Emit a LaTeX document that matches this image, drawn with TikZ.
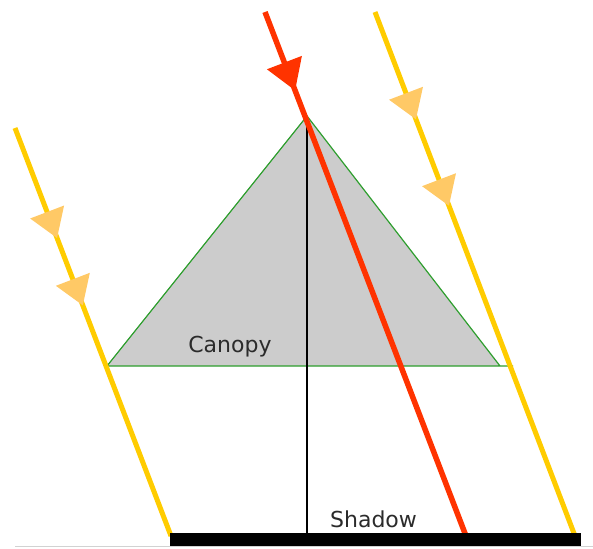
\documentclass[tikz,border=0pt]{standalone}
\usepackage{fontspec}
\setsansfont{DejaVu Sans}
\usetikzlibrary{arrows.meta,decorations.markings}
\definecolor{sunline}{HTML}{FFCC00}
\definecolor{sunhead}{HTML}{FFC966}
\definecolor{hotline}{HTML}{FF3300}
\definecolor{leafgray}{HTML}{CCCCCC}
\definecolor{leafedge}{HTML}{2E9E2E}
\definecolor{inkgray}{HTML}{2B2B2B}

\tikzset{
  sunray/.style 2 args={line width=5pt,draw=sunline,
    postaction={decorate,decoration={markings,
      mark=at position #1 with {\arrow[color=sunhead]{Triangle[length=28pt,width=35pt]}},
      mark=at position #2 with {\arrow[color=sunhead]{Triangle[length=28pt,width=35pt]}}}}},
  hotray/.style={line width=5.5pt,draw=hotline,
    postaction={decorate,decoration={markings,
      mark=at position #1 with {\arrow[color=hotline]{Triangle[length=30pt,width=36pt]}}}}},
  caption/.style={inkgray,inner sep=0pt,anchor=base}
}

\begin{document}
\begin{tikzpicture}[x=1pt,y=-1pt,font=\sffamily\fontsize{22}{26}\selectfont]
  \useasboundingbox (0,0) rectangle (593,548);
  % canopy
  \coordinate (apex) at (307,116);
  \coordinate (baseL) at (107,366);
  \coordinate (baseR) at (500,366);
  \coordinate (baseEnd) at (513,366);
  \coordinate (ground) at (307,535);
  \fill[leafgray] (apex) -- (baseL) -- (baseR) -- cycle;
  \draw[leafedge,line width=1.2pt] (baseR) -- (apex) -- (baseL) -- (baseEnd);
  \draw[black,line width=1.4pt] (apex) -- (ground);
  \node[caption] (canopy) at (230,352) {Canopy};
  % rays
  \coordinate (hotTop) at (265,12);
  \coordinate (hotEnd) at (466,536);
  \draw[hotray=0.15] (hotTop) -- (hotEnd);
  \coordinate (sunATop) at (15,128);
  \coordinate (sunAEnd) at (171,536);
  \draw[sunray={0.27}{0.435}] (sunATop) -- (sunAEnd);
  \coordinate (sunBTop) at (375,12);
  \coordinate (sunBEnd) at (575,536);
  \draw[sunray={0.205}{0.37}] (sunBTop) -- (sunBEnd);
  % shadow on ground
  \draw[gray!35,line width=1.5pt] (15,546.5) -- (593,546.5);
  \fill[black] (170,533) rectangle (581,546);
  \node[caption] (shadow) at (373.5,527) {Shadow};
\end{tikzpicture}
\end{document}
